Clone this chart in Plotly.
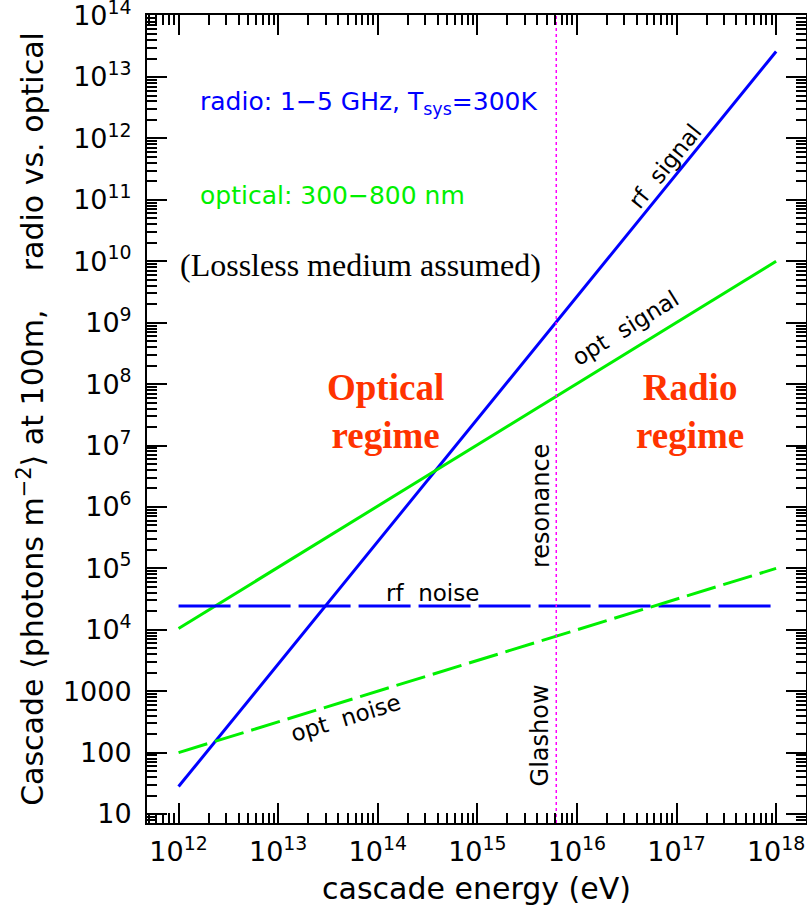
import numpy as np
import plotly.graph_objects as go

# ---- data ----
energy = [1e12, 1e18]                 # cascade energy (eV) end points
rf_signal = [2.8e1, 2.6e13]           # photons m^-2 at 100 m
opt_signal = [1.05e4, 1.0e10]
rf_noise = [2.45e4, 2.45e4]
opt_noise = [1.0e2, 1.0e5]
glashow_energy = 6.2e15

x_tickvals = [1e12, 1e13, 1e14, 1e15, 1e16, 1e17, 1e18]
x_ticktext = ["10<sup>12</sup>", "10<sup>13</sup>", "10<sup>14</sup>", "10<sup>15</sup>",
              "10<sup>16</sup>", "10<sup>17</sup>", "10<sup>18</sup>"]
y_tickvals = [10 ** k for k in range(1, 15)]
y_ticktext = ["10", "100", "1000"] + ["10<sup>%d</sup>" % k for k in range(4, 15)]

x_range_log = [11.683, 18.30]
y_range_log = [0.854, 14.01]

minor_x = [m * 10 ** k for k in range(11, 19) for m in range(2, 10)]
minor_y = [m * 10 ** k for k in range(0, 14) for m in range(2, 10)]

BLUE = "#0000ff"
GREEN = "#00f000"
RED = "#ff3300"
SANS = "DejaVu Sans"

fig = go.Figure()
fig.add_trace(go.Scatter(x=energy, y=rf_signal, mode="lines",
                         line=dict(color=BLUE, width=3), showlegend=False))
fig.add_trace(go.Scatter(x=energy, y=opt_signal, mode="lines",
                         line=dict(color=GREEN, width=3), showlegend=False))
fig.add_trace(go.Scatter(x=energy, y=rf_noise, mode="lines",
                         line=dict(color=BLUE, width=3, dash="52px,8px"), showlegend=False))
fig.add_trace(go.Scatter(x=energy, y=opt_noise, mode="lines",
                         line=dict(color=GREEN, width=3, dash="30px,8px"), showlegend=False))
fig.add_trace(go.Scatter(x=[glashow_energy, glashow_energy],
                         y=[10 ** y_range_log[0], 10 ** y_range_log[1]], mode="lines",
                         line=dict(color="#ff00ff", width=1.5, dash="dot"), showlegend=False))

axis_common = dict(
    type="log", showline=True, linecolor="black", linewidth=2, mirror="allticks",
    ticks="inside", ticklen=20, tickwidth=2, tickcolor="black", showgrid=False,
    zeroline=False, tickfont=dict(family=SANS, size=27, color="black"),
    ticklabeloverflow="allow",
)

fig.update_xaxes(**axis_common, range=x_range_log, tickmode="array",
                 tickvals=x_tickvals, ticktext=x_ticktext, ticklabelstandoff=4,
                 minor=dict(ticks="inside", ticklen=10, tickwidth=1.5, tickcolor="black",
                            tickvals=minor_x, showgrid=False),
                 title=dict(text="cascade energy (eV)", standoff=12,
                            font=dict(family=SANS, size=30, color="black")))
fig.update_yaxes(**axis_common, range=y_range_log, tickmode="array",
                 tickvals=y_tickvals, ticktext=y_ticktext, ticklabelstandoff=8,
                 minor=dict(ticks="inside", ticklen=10, tickwidth=1.5, tickcolor="black",
                            tickvals=minor_y, showgrid=False),
                 title=dict(text="Cascade \u27e8photons m<sup>\u22122</sup>\u27e9 at 100m,\u00a0\u00a0\u00a0 radio vs. optical",
                            standoff=10, font=dict(family=SANS, size=30, color="black")))

ann = []
# legend-like notes
ann.append(dict(xref="paper", yref="paper", x=0.0774, y=0.891, xanchor="left", yanchor="middle",
                text="radio: 1\u22125 GHz, T<sub>sys</sub>=300K", showarrow=False,
                font=dict(family=SANS, size=25, color=BLUE)))
ann.append(dict(xref="paper", yref="paper", x=0.0774, y=0.777, xanchor="left", yanchor="middle",
                text="optical: 300\u2212800 nm", showarrow=False,
                font=dict(family=SANS, size=25, color=GREEN)))
ann.append(dict(xref="paper", yref="paper", x=0.047, y=0.6906, xanchor="left", yanchor="middle",
                text="(Lossless medium assumed)", showarrow=False,
                font=dict(family="Liberation Serif", size=32, color="black")))
# regimes
ann.append(dict(xref="x", yref="y", x=np.log10(1.2e14), y=7.55, text="<b>Optical<br>regime</b>",
                showarrow=False, align="center",
                font=dict(family="Liberation Serif", size=37, color=RED)))
ann.append(dict(xref="x", yref="y", x=17.14, y=7.55, text="<b>Radio<br>regime</b>",
                showarrow=False, align="center",
                font=dict(family="Liberation Serif", size=37, color=RED)))
# line labels
ann.append(dict(xref="x", yref="y", x=16.887, y=11.55, text="rf  signal", textangle=-51,
                showarrow=False, font=dict(family=SANS, size=23, color="black")))
ann.append(dict(xref="x", yref="y", x=16.485, y=8.92, text="opt  signal", textangle=-31.7,
                showarrow=False, font=dict(family=SANS, size=23, color="black")))
ann.append(dict(xref="x", yref="y", x=14.547, y=4.60, text="rf  noise",
                showarrow=False, font=dict(family=SANS, size=23, color="black")))
ann.append(dict(xref="x", yref="y", x=13.674, y=2.56, text="opt  noise", textangle=-17,
                showarrow=False, font=dict(family=SANS, size=23, color="black")))
ann.append(dict(xref="x", yref="y", x=15.632, y=6.02, text="resonance", textangle=-90,
                showarrow=False, font=dict(family=SANS, size=24, color="black")))
ann.append(dict(xref="x", yref="y", x=15.632, y=2.285, text="Glashow", textangle=-90,
                showarrow=False, font=dict(family=SANS, size=24, color="black")))

fig.update_layout(
    width=807, height=909,
    margin=dict(l=147, r=1, t=15, b=86, autoexpand=False),
    paper_bgcolor="white", plot_bgcolor="white",
    annotations=ann,
)

fig.write_html("out.html", config={"displayModeBar": False},
               post_script="document.body.style.margin='0';document.body.style.overflow='hidden';")
